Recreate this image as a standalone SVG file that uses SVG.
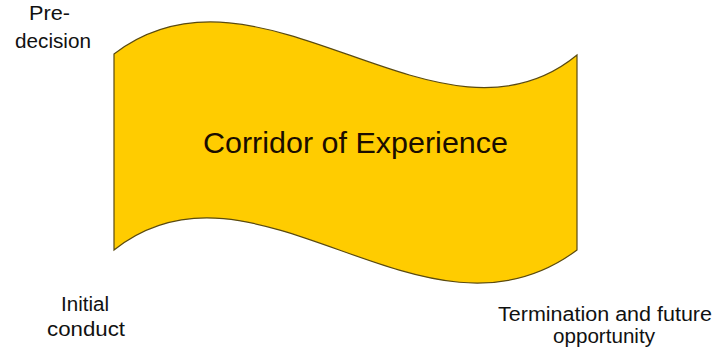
<svg xmlns="http://www.w3.org/2000/svg" width="714" height="351" viewBox="0 0 714 351">
  <style>
    .lbl { font-family: "Liberation Sans", Arial, sans-serif; font-size: 20px; fill: #111; text-anchor: middle; }
    .main { font-family: "Liberation Sans", Arial, sans-serif; font-size: 29px; fill: #1a0d00; text-anchor: middle; }
    .wave { fill: #FFCC00; stroke: #5a4a10; stroke-width: 1.2; }
  </style>
  <rect width="714" height="351" fill="#ffffff"/>
  <g id="corridor">
    <path class="wave" d="M114,54 C260,-58 440,168 577,55 L577,250 C425,364 255,138 114,250 Z"/>
    <text class="main" x="355.5" y="153" textLength="305" lengthAdjust="spacingAndGlyphs">Corridor of Experience</text>
  </g>
  <g id="pre-decision">
    <text class="lbl" x="49.5" y="20" textLength="41" lengthAdjust="spacingAndGlyphs">Pre-</text>
    <text class="lbl" x="53" y="48" textLength="76" lengthAdjust="spacingAndGlyphs">decision</text>
  </g>
  <g id="initial-conduct">
    <text class="lbl" x="85" y="311" textLength="48" lengthAdjust="spacingAndGlyphs">Initial</text>
    <text class="lbl" x="86" y="336" textLength="78" lengthAdjust="spacingAndGlyphs">conduct</text>
  </g>
  <g id="termination">
    <text class="lbl" x="605" y="321" textLength="214" lengthAdjust="spacingAndGlyphs">Termination and future</text>
    <text class="lbl" x="604" y="343" textLength="102" lengthAdjust="spacingAndGlyphs">opportunity</text>
  </g>
  <g id="connectors"/>
</svg>
